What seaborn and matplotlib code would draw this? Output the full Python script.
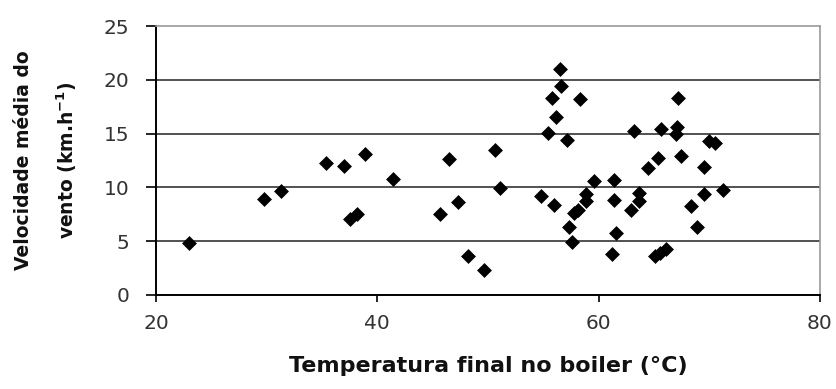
import matplotlib
matplotlib.use("Agg")
import matplotlib.pyplot as plt
import seaborn as sns
import pandas as pd

temperatura = [23.0, 29.8, 31.3, 35.4, 37.0, 38.9, 37.5, 38.2, 41.4, 45.7, 46.5, 47.3, 48.2, 49.6,
               50.6, 51.1, 54.8, 55.4, 55.8, 56.0, 56.1, 56.5, 56.6, 57.1, 57.3, 57.6, 57.8, 58.1,
               58.3, 58.9, 58.9, 59.6, 61.2, 61.4, 61.4, 61.6, 62.9, 63.2, 63.6, 63.6, 64.5, 65.1,
               65.5, 66.1, 65.4, 65.6, 67.0, 67.1, 67.2, 67.4, 68.3, 68.9, 69.5, 69.5, 70.0, 70.5, 71.2]
vento = [4.8, 8.9, 9.7, 12.3, 12.0, 13.1, 7.1, 7.5, 10.8, 7.5, 12.6, 8.6, 3.6, 2.3,
         13.5, 9.9, 9.2, 15.1, 18.3, 8.4, 16.5, 21.0, 19.4, 14.4, 6.3, 4.9, 7.6, 7.9,
         18.2, 9.4, 8.7, 10.6, 3.8, 10.7, 8.8, 5.8, 7.9, 15.2, 9.5, 8.7, 11.8, 3.6,
         3.9, 4.3, 12.7, 15.4, 15.0, 15.6, 18.3, 12.9, 8.3, 6.3, 11.9, 9.4, 14.3, 14.1, 9.8]
x_ticks = [20, 40, 60, 80]
y_ticks = [0, 5, 10, 15, 20, 25]

sns.set_theme(style="white")
plt.rcParams['font.family'] = ['DejaVu Sans']
plt.rcParams['mathtext.fontset'] = 'dejavusans'

df = pd.DataFrame({"temperatura": temperatura, "vento": vento})

fig = plt.figure(figsize=(8.36, 3.89), dpi=100)
ax = fig.add_axes([156/836, 1-295/389, (820-156)/836, (295-26)/389])

for yv in y_ticks[1:-1]:
    ax.axhline(yv, color="#333333", lw=1.2, zorder=1)

sns.scatterplot(data=df, x="temperatura", y="vento", marker="D", color="black",
                s=50, edgecolor="black", linewidth=0.5, ax=ax, zorder=3)

ax.set_xlim(20, 80)
ax.set_ylim(0, 25)
ax.set_xticks(x_ticks)
ax.set_yticks(y_ticks)
ax.tick_params(axis="y", direction="out", length=7, width=1.2, color="black",
               labelsize=14.5, labelcolor="#333333", pad=12, left=True)
ax.tick_params(axis="x", direction="out", length=5, width=1.2, color="black",
               labelsize=14.5, labelcolor="#333333", pad=9, bottom=True)

for s in ["top", "right"]:
    ax.spines[s].set_color("#999999")
    ax.spines[s].set_linewidth(1.2)
for s in ["left", "bottom"]:
    ax.spines[s].set_color("black")
    ax.spines[s].set_linewidth(1.4)

ax.set_xlabel("Temperatura final no boiler (°C)", fontsize=16, fontweight="bold",
              color="#111111", labelpad=16)
ax.set_ylabel("Velocidade média do\n" + r"vento (km.h$^{\mathbf{-1}}$)", fontsize=13.5,
              fontweight="bold", color="#111111", labelpad=18, linespacing=2.1)

fig.savefig("out.png", dpi=100, facecolor="white")
